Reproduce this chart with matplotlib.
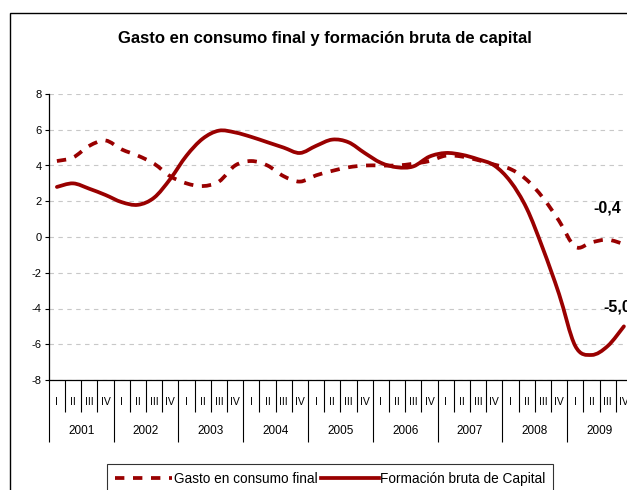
import numpy as np
import matplotlib
matplotlib.use("Agg")
import matplotlib.pyplot as plt
from matplotlib.path import Path
from matplotlib.patches import PathPatch, Rectangle
from matplotlib.lines import Line2D

plt.rcParams['font.family'] = ['Liberation Sans', 'DejaVu Sans']
plt.rcParams['axes.unicode_minus'] = False

# ---------------------------------------------------------------
# Datos trimestrales (tasas de variación interanual, %)
# ---------------------------------------------------------------
anios = ['2001', '2002', '2003', '2004', '2005', '2006', '2007', '2008', '2009']
trimestres = ['I', 'II', 'III', 'IV']

gasto = [4.25, 4.45, 5.1, 5.4, 4.9, 4.55, 4.1, 3.4,
         3.0, 2.85, 3.1, 4.0, 4.25, 4.0, 3.4, 3.1,
         3.45, 3.7, 3.9, 4.0, 4.0, 4.0, 4.1, 4.25,
         4.55, 4.5, 4.3, 4.05, 3.8, 3.2, 2.2, 0.9,
         -0.55, -0.3, -0.15, -0.4]

fbc = [2.8, 3.0, 2.7, 2.35, 1.95, 1.8, 2.2, 3.25,
       4.55, 5.5, 5.95, 5.85, 5.6, 5.3, 5.0, 4.7,
       5.1, 5.45, 5.3, 4.7, 4.15, 3.9, 3.95, 4.5,
       4.7, 4.6, 4.35, 4.0, 3.1, 1.6, -0.65, -3.2,
       -6.1, -6.6, -6.1, -5.0]

serie_gasto = 'Gasto en consumo final'
serie_fbc = 'Formación bruta de Capital'
titulo = 'Gasto en consumo final y formación bruta de capital'

rojo = '#990000'
W, H = 627, 490


def curva_suave(x, y):
    # tramos de Bezier que pasan por cada punto (suavizado tipo Excel)
    pts = np.column_stack([x, y])
    n = len(pts)
    verts = [pts[0]]
    codes = [Path.MOVETO]
    for i in range(n - 1):
        p0 = pts[max(i - 1, 0)]
        p1 = pts[i]
        p2 = pts[i + 1]
        p3 = pts[min(i + 2, n - 1)]
        verts += [p1 + (p2 - p0) / 6, p2 - (p3 - p1) / 6, p2]
        codes += [Path.CURVE4] * 3
    return Path(verts, codes)


def etiqueta(v):
    return f"{v:.1f}".replace('.', ',')


x = np.arange(len(gasto)) + 0.5

fig = plt.figure(figsize=(W / 100, H / 100), dpi=100)
ax = fig.add_axes([48.8 / W, 1 - 380 / H, 583.2 / W, 286 / H])

ax.add_patch(PathPatch(curva_suave(x, gasto), fill=False, ec=rojo, lw=2.7,
                       ls=(0, (2.5, 2.3)), capstyle='butt', zorder=3))
ax.add_patch(PathPatch(curva_suave(x, fbc), fill=False, ec=rojo, lw=2.7,
                       capstyle='round', joinstyle='round', zorder=4))

ax.set_xlim(0, len(gasto))
ax.set_ylim(-8, 8)
ax.set_yticks(range(-8, 9, 2))
ax.grid(axis='y', color='#c8c8c8', ls=(0, (4, 4)), lw=0.8)
ax.set_axisbelow(True)

for s in ['top', 'right']:
    ax.spines[s].set_visible(False)
for s in ['left', 'bottom']:
    ax.spines[s].set_linewidth(0.9)

ax.tick_params(axis='y', length=3, width=0.8, labelsize=8, pad=2)

# separadores de trimestres y de años
ax.set_xticks(range(0, len(gasto) + 1, 4))
ax.set_xticks(range(0, len(gasto) + 1), minor=True)
ax.tick_params(axis='x', which='major', length=44.5, width=0.8, labelbottom=False)
ax.tick_params(axis='x', which='minor', length=23, width=0.8, labelbottom=False)

for i in range(len(gasto)):
    ax.annotate(trimestres[i % 4], xy=(x[i], 0), xycoords=('data', 'axes fraction'),
                xytext=(0, -16), textcoords='offset points',
                ha='center', va='center', fontsize=7.5)
for j, a in enumerate(anios):
    ax.annotate(a, xy=(4 * j + 2, 0), xycoords=('data', 'axes fraction'),
                xytext=(0, -37), textcoords='offset points',
                ha='center', va='center', fontsize=8.5)

# valores finales
ax.annotate(etiqueta(gasto[-1]), xy=(x[-1], gasto[-1]), xytext=(-22, 26),
            textcoords='offset points', ha='left', va='center',
            fontsize=11.5, fontweight='bold')
ax.annotate(etiqueta(fbc[-1]), xy=(x[-1], fbc[-1]), xytext=(-15, 14),
            textcoords='offset points', ha='left', va='center',
            fontsize=11.5, fontweight='bold')

fig.text(325 / W, 1 - 38 / H, titulo, ha='center', va='center',
         fontsize=12, fontweight='bold')

# marco del gráfico
fig.add_artist(Rectangle((10 / W, -0.2), 1.5, 1.2 - 13 / H, transform=fig.transFigure,
                         fill=False, ec='black', lw=1.0))

handles = [Line2D([], [], color=rojo, lw=2.7, ls=(0, (2.5, 2.3))),
           Line2D([], [], color=rojo, lw=2.7)]
leg = fig.legend(handles, [serie_gasto, serie_fbc], loc='upper left',
                 bbox_to_anchor=(107 / W, 1 - 464 / H), ncol=2, frameon=True,
                 fancybox=False, edgecolor='black', fontsize=9.8,
                 handlelength=4.2, handletextpad=0.1, columnspacing=0.3,
                 borderpad=0.6, borderaxespad=0)
leg.get_frame().set_linewidth(0.8)

fig.savefig('out.png', dpi=100)
